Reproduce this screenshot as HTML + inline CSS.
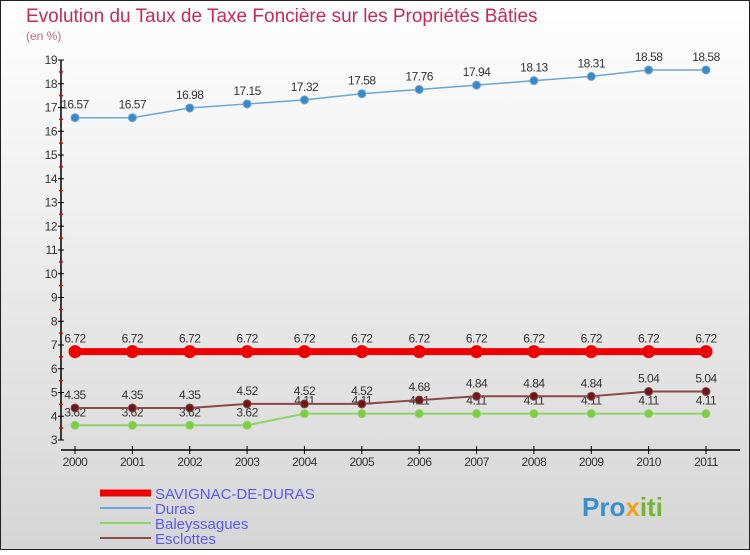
<!DOCTYPE html>
<html><head><meta charset="utf-8"><style>
html,body{margin:0;padding:0}
body{width:750px;height:550px;overflow:hidden;font-family:"Liberation Sans",sans-serif}
</style></head><body>
<svg width="750" height="550" xmlns="http://www.w3.org/2000/svg" id="svg">
<defs><linearGradient id="bg" x1="0" y1="0" x2="0" y2="1"><stop offset="0" stop-color="#ffffff"/><stop offset="1" stop-color="#d6d6d6"/></linearGradient></defs>
<rect x="0.5" y="0.5" width="749" height="549" fill="url(#bg)" stroke="#222"/>
<text x="26" y="22" font-size="19" fill="#c8285a">Evolution du Taux de Taxe Foncière sur les Propriétés Bâties</text>
<text x="26" y="40" font-size="12" fill="#d06080">(en %)</text>
<g id="axes"></g><g id="series"></g>
<g id="legend"></g>
<text x="582" y="516" font-size="26" font-weight="bold" fill="#3a8fd0">Pro<tspan fill="#f0a020">x</tspan><tspan fill="#70b830">iti</tspan></text>
</svg>
<script>
const years=[2000,2001,2002,2003,2004,2005,2006,2007,2008,2009,2010,2011];
const savignac=[6.72,6.72,6.72,6.72,6.72,6.72,6.72,6.72,6.72,6.72,6.72,6.72];
const duras=[16.57,16.57,16.98,17.15,17.32,17.58,17.76,17.94,18.13,18.31,18.58,18.58];
const baleyssagues=[3.62,3.62,3.62,3.62,4.11,4.11,4.11,4.11,4.11,4.11,4.11,4.11];
const esclottes=[4.35,4.35,4.35,4.52,4.52,4.52,4.68,4.84,4.84,4.84,5.04,5.04];
const yTicks=[3,4,5,6,7,8,9,10,11,12,13,14,15,16,17,18,19];
const NS="http://www.w3.org/2000/svg";
const X=i=>75+i*(706-75)/(years.length-1);
const Y=v=>440-(v-3)*(380/16);
function mk(tag,attrs,parent){const e=document.createElementNS(NS,tag);for(const k in attrs)e.setAttribute(k,attrs[k]);parent.appendChild(e);return e;}
const ax=document.getElementById('axes');
let e=mk('line',{x1:61,y1:Y(19),x2:61,y2:Y(3),stroke:'#000','stroke-width':1.5},ax);


yTicks.forEach(t=>{
  let l=mk('line',{x1:58,y1:Y(t),x2:64,y2:Y(t),stroke:'#000'},ax);
  
  
  if(t<19){let m=mk('line',{x1:59,y1:Y(t+0.5),x2:63,y2:Y(t+0.5),stroke:'#e00','stroke-width':1.5},ax);
  
  }
  let tx=mk('text',{x:57,y:Y(t)+4,'text-anchor':'end','font-size':12,fill:'#333','letter-spacing':'-0.5'},ax);
  tx.textContent=t;
  
  
});
e=mk('line',{x1:61,y1:450,x2:740,y2:450,stroke:'#000','stroke-width':1.5},ax);


years.forEach((y,i)=>{
  let l=mk('line',{x1:X(i),y1:446,x2:X(i),y2:454,stroke:'#000'},ax);
  
  
  let tx=mk('text',{x:X(i),y:466,'text-anchor':'middle','font-size':12,fill:'#333','letter-spacing':'-0.5'},ax);
  tx.textContent=y;
  
  
});
const sg=document.getElementById('series');
function series(name,vals,color,dot,w,r){
  const g=mk('g',{},sg);
  
  
  const p=mk('polyline',{points:vals.map((v,i)=>X(i)+','+Y(v)).join(' '),fill:'none',stroke:color,'stroke-width':w},g);
  
  
  vals.forEach((v,i)=>{
    const c=mk('circle',{cx:X(i),cy:Y(v),r:r,fill:dot,stroke:color,'stroke-width':1},g);
    
    
    const t=mk('text',{x:X(i),y:Y(v)-9,'text-anchor':'middle','font-size':12,fill:'#333','letter-spacing':'-0.5'},g);
    t.textContent=v;
    
    
  });
}
series('baleyssagues',baleyssagues,'#8fd46a','#7cd040',2,4);
series('esclottes',esclottes,'#8a4a4a','#6a1818',2,4);
series('duras',duras,'#6aa6d6','#3a88c8',1.5,4);
series('savignac',savignac,'#ee0000','#ee0000',7,6);
const lg=document.getElementById('legend');
const items=[['SAVIGNAC-DE-DURAS','#ee0000',7],['Duras','#6aa6d6',2],['Baleyssagues','#8fd46a',2],['Esclottes','#8a4a4a',2]];
items.forEach((it,i)=>{
  const y=493+i*15;
  const l=mk('line',{x1:100,y1:y,x2:151,y2:y,stroke:it[1],'stroke-width':it[2]},lg);
  
  
  const t=mk('text',{x:155,y:y+6,'font-size':15,fill:'#5a5aee'},lg);
  t.textContent=it[0];
  
  
});
</script>
</body></html>
